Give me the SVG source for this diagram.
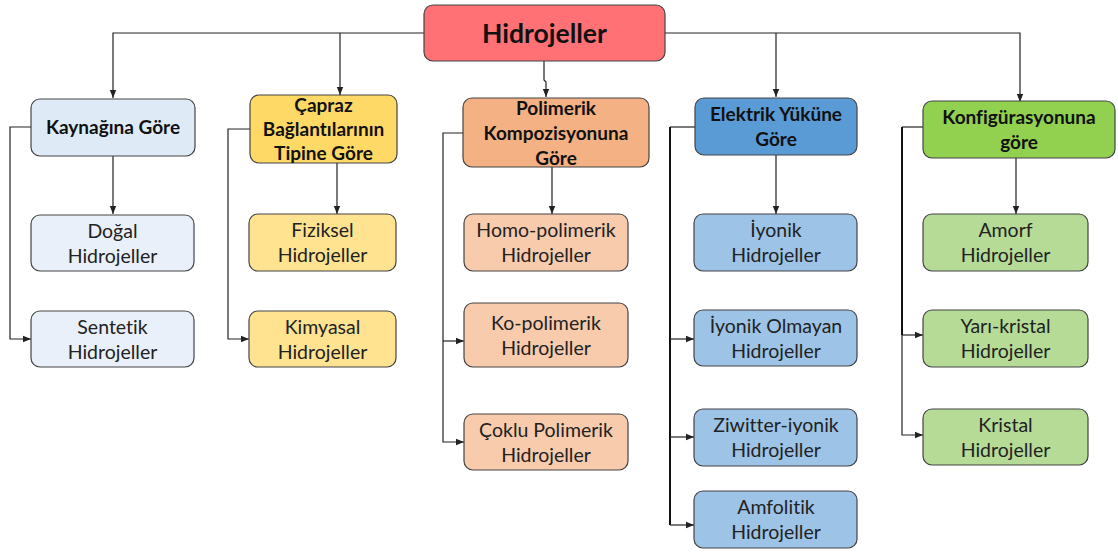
<svg xmlns="http://www.w3.org/2000/svg" width="1118" height="556" viewBox="0 0 1118 556">
<defs>
<marker id="ah" viewBox="0 0 10 10" refX="10" refY="5" markerWidth="8" markerHeight="8" markerUnits="userSpaceOnUse" orient="auto"><path d="M0,1 L10,5 L0,9 z" fill="#222"/></marker>
<style>
text{font-variant-ligatures:none}
.b{stroke:#444;stroke-width:1.2}
.t{font-family:Lato,"Open Sans",sans-serif;font-size:19.5px;fill:#222;text-anchor:middle}
.h{font-family:Lato,"Open Sans",sans-serif;font-size:19px;font-weight:bold;fill:#111;text-anchor:middle}
.c{fill:none;stroke:#222;stroke-width:1.2}
.c2{fill:none;stroke:#111;stroke-width:2}
</style>
</defs>
<rect width="1118" height="556" fill="#fff"/>
<g id="connectors">
<path class="c" d="M424,33 H113 V98" marker-end="url(#ah)"/>
<path class="c" d="M340,33 V95" marker-end="url(#ah)"/>
<path class="c" d="M544,61 V80 L546,82 V97" marker-end="url(#ah)"/>
<path class="c" d="M665,33 H1020 V102" marker-end="url(#ah)"/>
<path class="c" d="M776,33 V97" marker-end="url(#ah)"/>
<path class="c" d="M113,156 V214" marker-end="url(#ah)"/>
<path class="c" d="M31,127 H10 V339 H31" marker-end="url(#ah)"/>
<path class="c" d="M337,163 V214" marker-end="url(#ah)"/>
<path class="c" d="M250,129 H228 V339 H249" marker-end="url(#ah)"/>
<path class="c" d="M552,167 V214" marker-end="url(#ah)"/>
<path class="c" d="M463,133 H443 V442 H464" marker-end="url(#ah)"/>
<path class="c" d="M443,341 H464" marker-end="url(#ah)"/>
<path class="c" d="M776,155 V214" marker-end="url(#ah)"/>
<path class="c" d="M695,127 H670"/>
<path class="c2" d="M670,127 V525"/>
<path class="c" d="M670,339 H694" marker-end="url(#ah)"/>
<path class="c" d="M670,437 H694" marker-end="url(#ah)"/>
<path class="c" d="M670,525 H694" marker-end="url(#ah)"/>
<path class="c" d="M1016,158 V214" marker-end="url(#ah)"/>
<path class="c" d="M923,127 H902"/>
<path class="c2" d="M902,127 V335"/>
<path class="c" d="M902,335 V435 H923" marker-end="url(#ah)"/>
<path class="c" d="M902,335 H923" marker-end="url(#ah)"/>
</g>
<g id="root"><rect class="b" x="424" y="5" width="241" height="56" rx="9" fill="#FF7175"/><text x="544.5" y="43" font-family="Lato,'Open Sans',sans-serif" font-size="26.5" font-weight="bold" fill="#111" text-anchor="middle">Hidrojeller</text></g>
<g id="cat1"><rect class="b" x="31" y="99" width="164" height="57" rx="9" fill="#DEEBF7"/><text class="h" x="113" y="134">Kaynağına Göre</text></g>
<g id="cat2"><rect class="b" x="250" y="95" width="147" height="68" rx="9" fill="#FFD966"/><text class="h" x="323.5" y="112">Çapraz</text><text class="h" x="323.5" y="136">Bağlantılarının</text><text class="h" x="323.5" y="160">Tipine Göre</text></g>
<g id="cat3"><rect class="b" x="463" y="98" width="186" height="69" rx="9" fill="#F4B183"/><text class="h" x="556" y="115">Polimerik</text><text class="h" x="556" y="140">Kompozisyonuna</text><text class="h" x="556" y="165">Göre</text></g>
<g id="cat4"><rect class="b" x="695" y="98" width="162" height="57" rx="9" fill="#5B9BD5"/><text class="h" x="776" y="121">Elektrik Yüküne</text><text class="h" x="776" y="146">Göre</text></g>
<g id="cat5"><rect class="b" x="923" y="101" width="192" height="57" rx="9" fill="#92D050"/><text class="h" x="1019" y="124">Konfigürasyonuna</text><text class="h" x="1019" y="149">göre</text></g>
<g id="n-dogal"><rect class="b" x="31" y="215" width="163" height="56" rx="9" fill="#EAF0F9"/><text class="t" x="112.5" y="238">Doğal</text><text class="t" x="112.5" y="263">Hidrojeller</text></g>
<g id="n-sentetik"><rect class="b" x="31" y="311" width="163" height="56" rx="9" fill="#EAF0F9"/><text class="t" x="112.5" y="334">Sentetik</text><text class="t" x="112.5" y="359">Hidrojeller</text></g>
<g id="n-fiziksel"><rect class="b" x="249" y="214" width="147" height="57" rx="9" fill="#FFE391"/><text class="t" x="322.5" y="237">Fiziksel</text><text class="t" x="322.5" y="262">Hidrojeller</text></g>
<g id="n-kimyasal"><rect class="b" x="249" y="311" width="147" height="56" rx="9" fill="#FFE391"/><text class="t" x="322.5" y="334">Kimyasal</text><text class="t" x="322.5" y="359">Hidrojeller</text></g>
<g id="n-homo"><rect class="b" x="464" y="214" width="164" height="57" rx="9" fill="#F8CBAD"/><text class="t" x="546" y="237">Homo-polimerik</text><text class="t" x="546" y="262">Hidrojeller</text></g>
<g id="n-ko"><rect class="b" x="464" y="303" width="164" height="64" rx="9" fill="#F8CBAD"/><text class="t" x="546" y="330">Ko-polimerik</text><text class="t" x="546" y="355">Hidrojeller</text></g>
<g id="n-coklu"><rect class="b" x="464" y="414" width="164" height="56" rx="9" fill="#F8CBAD"/><text class="t" x="546" y="437">Çoklu Polimerik</text><text class="t" x="546" y="462">Hidrojeller</text></g>
<g id="n-iyonik"><rect class="b" x="694" y="214" width="163" height="57" rx="9" fill="#9DC3E6"/><text class="t" x="776" y="237">İyonik</text><text class="t" x="776" y="262">Hidrojeller</text></g>
<g id="n-iyonikolmayan"><rect class="b" x="694" y="310" width="163" height="56" rx="9" fill="#9DC3E6"/><text class="t" x="776" y="333">İyonik Olmayan</text><text class="t" x="776" y="358">Hidrojeller</text></g>
<g id="n-ziwitter"><rect class="b" x="694" y="409" width="163" height="57" rx="9" fill="#9DC3E6"/><text class="t" x="776" y="432">Ziwitter-iyonik</text><text class="t" x="776" y="457">Hidrojeller</text></g>
<g id="n-amfolitik"><rect class="b" x="694" y="491" width="163" height="57" rx="9" fill="#9DC3E6"/><text class="t" x="776" y="514">Amfolitik</text><text class="t" x="776" y="539">Hidrojeller</text></g>
<g id="n-amorf"><rect class="b" x="923" y="214" width="165" height="57" rx="9" fill="#B5DB96"/><text class="t" x="1005.5" y="237">Amorf</text><text class="t" x="1005.5" y="262">Hidrojeller</text></g>
<g id="n-yarikristal"><rect class="b" x="923" y="310" width="165" height="57" rx="9" fill="#B5DB96"/><text class="t" x="1005.5" y="333">Yarı-kristal</text><text class="t" x="1005.5" y="358">Hidrojeller</text></g>
<g id="n-kristal"><rect class="b" x="923" y="409" width="165" height="56" rx="9" fill="#B5DB96"/><text class="t" x="1005.5" y="432">Kristal</text><text class="t" x="1005.5" y="457">Hidrojeller</text></g>
</svg>
